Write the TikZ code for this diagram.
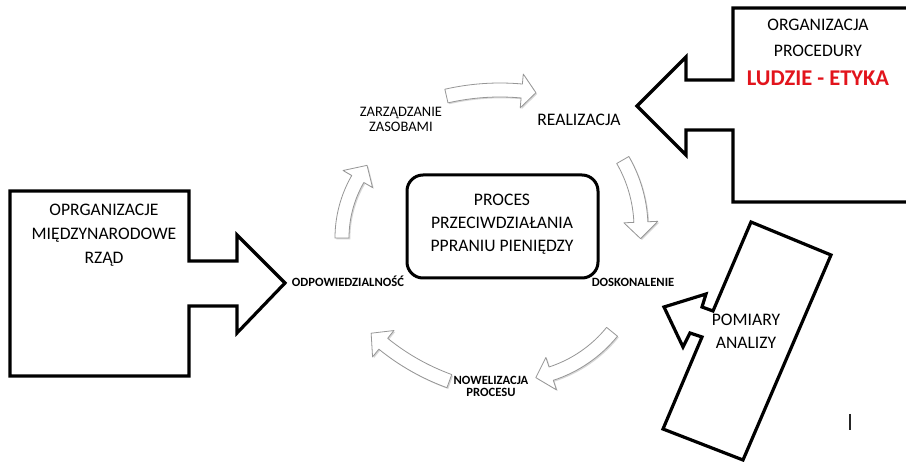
\documentclass[tikz,border=0pt]{standalone}
\usepackage{fontspec}
\setmainfont{Carlito}
\usetikzlibrary{shadows}

\definecolor{ethicsred}{RGB}{226,20,28}
\definecolor{arcgray}{RGB}{150,150,150}

% curved block arrow on a circular arc:
% #1 centre, #2 radius, #3 tail angle, #4 head-base angle, #5 tip angle
\newcommand\cyclearrow[5]{%
  \begin{scope}[shift={(#1)}]
    \draw[ringarrow] (#3:{#2+7}) arc[start angle=#3, end angle=#4, radius={#2+7}]
      -- (#4:{#2+17}) -- (#5:#2) -- (#4:{#2-17}) -- (#4:{#2-7})
      arc[start angle=#4, end angle=#3, radius={#2-7}] -- cycle;
  \end{scope}}

\begin{document}
\begin{tikzpicture}[x=1pt,y=-1pt,
  ringarrow/.style={draw=arcgray, line width=0.8pt, fill=white, line join=round,
    drop shadow={shadow xshift=1.3pt, shadow yshift=-1.3pt, opacity=0.22, fill=black!70}},
  heavy/.style={draw=black, line width=3.2pt, line join=miter, fill=white},
  txt/.style={inner sep=0pt, text height=0.64em, text depth=0pt},
  big/.style={txt, font=\fontsize{17.6pt}{20pt}\selectfont},
  small/.style={txt, font=\fontsize{14.5pt}{16pt}\selectfont},
  tiny/.style={txt, font=\bfseries\fontsize{12.6pt}{14pt}\selectfont},
]
\useasboundingbox (0,0) rectangle (906,462);
\clip (0,0) rectangle (906,462);
\fill[white] (0,0) rectangle (906,462);

% top-right input: organisation, procedures, people
\draw[heavy] (930,8) -- (733,8) -- (733,80) -- (686,80) -- (686,57) -- (637,106)
  -- (686,155) -- (686,130) -- (733,130) -- (733,202) -- (930,202);
\node[big] (org) at (818,27) {ORGANIZACJA};
\node[big] (proc) at (818,53) {PROCEDURY};
\node[txt, font=\bfseries\fontsize{22.5pt}{26pt}\selectfont, text=ethicsred] (ethics) at (818,82) {LUDZIE - ETYKA};

% left input: international organisations, government
\draw[heavy] (10,191) -- (189,191) -- (189,261) -- (237,261) -- (237,235) -- (285,283)
  -- (237,333) -- (237,306) -- (189,306) -- (189,376) -- (10,376) -- cycle;
\node[big] (intl) at (104,212) {OPRGANIZACJE};
\node[big] (intl2) at (104,236) {MIĘDZYNARODOWE};
\node[big] (gov) at (104,260) {RZĄD};

% tilted input: measurements and analyses
\draw[heavy] (751,222) -- (831,255) -- (743,460) -- (663,429) -- (702,337) -- (690,333)
  -- (683,347) -- (664,307) -- (706,294) -- (702,307) -- (713,311) -- cycle;
\node[big] (meas) at (746,322) {POMIARY};
\node[big] (anal) at (746,345) {ANALIZY};

% central process
\node[draw, line width=3pt, rounded corners=16pt, minimum width=191pt, minimum height=103pt]
  (core) at (502.5,226.5) {};
\node[big] (core1) at (502,202) {PROCES};
\node[big] (core2) at (502,225) {PRZECIWDZIAŁANIA};
\node[big] (core3) at (502,248) {PPRANIU PIENIĘDZY};

% cycle stages
\node[small] (res1) at (401,113) {ZARZĄDZANIE};
\node[small] (res2) at (401,128) {ZASOBAMI};
\node[big] (real) at (579,122) {REALIZACJA};
\node[tiny] (impr) at (633,283) {DOSKONALENIE};
\node[tiny] (rev1) at (491,381) {NOWELIZACJA};
\node[tiny] (rev2) at (491,393) {PROCESU};
\node[tiny] (resp) at (348,283) {ODPOWIEDZIALNOŚĆ};

% cycle arrows
\cyclearrow{500,330}{240}{-102.9}{-84.8}{-81.4}
\cyclearrow{505,228}{136}{-30}{-2.5}{4.5}
\cyclearrow{511,250}{130}{39}{72}{79}
\cyclearrow{528,165}{230}{110}{129}{133}
\cyclearrow{460,238}{118}{-180}{-150}{-142}

% short vertical mark
\draw[line width=1.6pt, black!85] (850,414) -- (850,430);
\end{tikzpicture}
\end{document}
